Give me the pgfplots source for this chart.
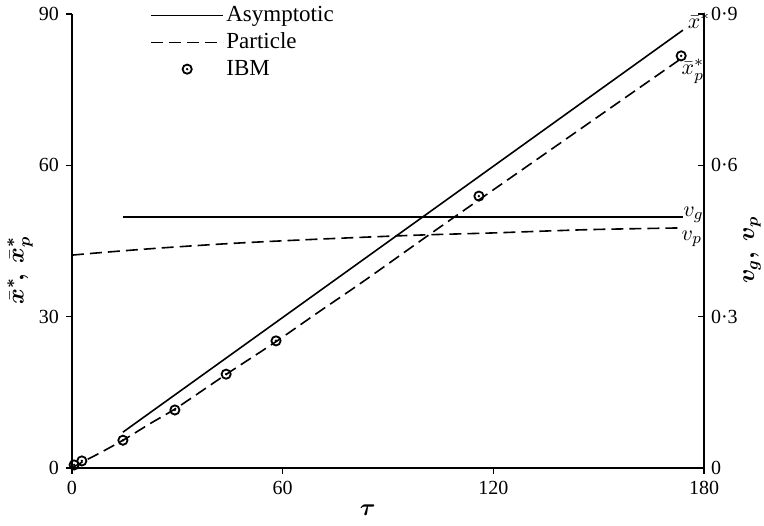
\documentclass[border=0pt]{standalone}
\usepackage{pgfplots}
\pgfplotsset{compat=1.18}
\usepackage{fontspec}
\setmainfont{Liberation Serif}
\usepackage{bm}
\pgfdeclareplotmark{odot}{%
  \pgfpathcircle{\pgfpointorigin}{\pgfplotmarksize}\pgfusepathqstroke
  \pgfpathcircle{\pgfpointorigin}{0.3\pgfplotmarksize}\pgfusepathqfill}
\pgfplotsset{
  linelegend/.style={legend image code/.code={\draw[##1] (0pt,0pt) -- (36pt,0pt);}},
  marklegend/.style={legend image code/.code={\draw[##1] plot coordinates {(18pt,0pt)};}},
}
\begin{document}
\begin{tikzpicture}[font=\fontsize{10}{12}\selectfont]
\begin{axis}[
  scale only axis, width=316pt, height=227pt,
  xmin=0, xmax=180, ymin=0, ymax=90,
  axis x line*=bottom, axis y line*=left,
  axis line style={line width=0.9pt,-},
  xtick={0,60,120,180}, ytick={0,30,60,90},
  tick style={black,line width=0.6pt}, major tick length=3pt,
  tick align=outside,
  /pgf/number format/assume math mode=true,
  xlabel={$\bm{\tau}$},
  xlabel style={at={(axis description cs:0.468,-0.0925)}, anchor=center, font=\fontsize{12}{14}\selectfont},
  ylabel={$\bm{\bar{x}^{*}\!,\;\bar{x}_{p}^{*}}$},
  ylabel style={at={(axis description cs:-0.0823,0.436)}, anchor=center, font=\fontsize{11.5}{13}\selectfont},
  clip=false,
  legend cell align=left,
  legend style={at={(rel axis cs:0.1234,1.027)}, anchor=north west, draw=none, fill=none,
    inner sep=0pt, row sep=0pt, font=\fontsize{11.5}{13}\selectfont,
    nodes={inner sep=1.2pt, text height=8.5pt, text depth=2.5pt}},
]
\coordinate (SW) at (rel axis cs:0,0);
\coordinate (NE) at (rel axis cs:1,1);
\addplot[black, line width=0.8pt, linelegend] coordinates {(14.5,7.1) (174,86.8)};
\addlegendentry{Asymptotic}
\addplot[black, line width=0.8pt, dash pattern=on 6pt off 3pt, smooth, linelegend] coordinates {
  (0,0) (3,1.2) (8,3.0) (15,5.7) (22,8.7) (30,12.0) (44,18.6) (58,25.0)
  (70,30.8) (83,37.0) (100,45.4) (116,53.2) (130,60.0) (145,67.3) (160,74.6) (174,81.4)};
\addlegendentry{Particle}
\addplot[black, only marks, mark=odot, mark size=2.3pt, mark options={line width=0.9pt}, marklegend] coordinates {
  (0.6,0.6) (2.8,1.4) (14.5,5.5) (29.3,11.5) (43.9,18.6) (58.1,25.2) (115.9,53.9) (173.5,81.7)};
\addlegendentry{IBM}
\node[anchor=west, inner sep=0pt, font=\fontsize{11}{13}\selectfont] at (axis cs:175.3,88.6) {$\bar{x}^{*}$};
\node[anchor=center, inner sep=0pt, font=\fontsize{11}{13}\selectfont] at (axis cs:176.8,78.6) {$\bar{x}_{p}^{*}$};
\node[anchor=center, inner sep=0pt, font=\fontsize{11}{13}\selectfont] at (axis cs:177,50.2) {$v_{g}$};
\node[anchor=center, inner sep=0pt, font=\fontsize{11}{13}\selectfont] at (axis cs:176.5,45.4) {$v_{p}$};
\end{axis}
\begin{axis}[
  scale only axis, width=316pt, height=227pt,
  xmin=0, xmax=180, ymin=0, ymax=0.9,
  axis x line=none, axis y line*=right,
  axis line style={line width=0.9pt,-},
  ytick={0,0.3,0.6,0.9}, yticklabels={0,0·3,0·6,0·9},
  tick style={black,line width=0.6pt}, major tick length=3pt,
  tick align=inside,
  ylabel={$\bm{v_{g},\;v_{p}}$},
  ylabel style={at={(axis description cs:1.076,0.48)}, anchor=center, rotate=0, font=\fontsize{11.5}{13}\selectfont},
  clip=false,
]
\addplot[black, line width=0.8pt] coordinates {(14.5,0.497) (174,0.497)};
\addplot[black, line width=0.8pt, dash pattern=on 6pt off 3pt, smooth] coordinates {
  (0,0.422) (10,0.428) (25,0.436) (45,0.445) (65,0.452) (85,0.458) (100,0.462)
  (120,0.466) (136,0.470) (150,0.473) (174,0.476)};
\end{axis}
\pgfresetboundingbox
\path[use as bounding box] ([shift={(-36pt,-29pt)}]SW) rectangle ([shift={(30pt,7pt)}]NE);
\end{tikzpicture}
\end{document}
